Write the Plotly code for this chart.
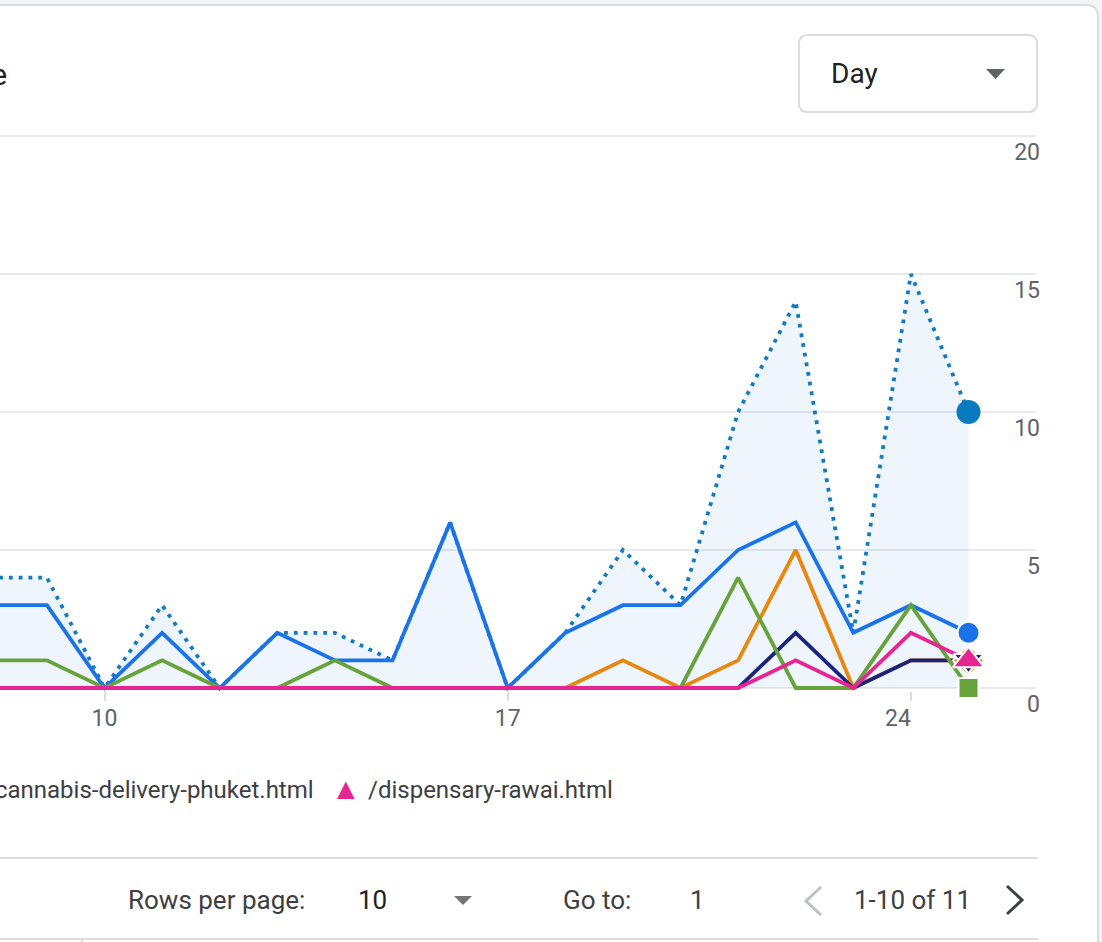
import plotly.graph_objects as go

W, H = 1102, 942

def fx(px):
    return px / W

def fy(py):
    return 1 - py / H

# ---------------- data ----------------
days = [8, 9, 10, 11, 12, 13, 14, 15, 16, 17, 18, 19, 20, 21, 22, 23, 24, 25]
total_views = [4, 4, 0, 3, 0, 2, 2, 1, 6, 0, 2, 5, 3, 10, 14, 2, 15, 10]
page_home = [3, 3, 0, 2, 0, 2, 1, 1, 6, 0, 2, 3, 3, 5, 6, 2, 3, 2]
page_green = [1, 1, 0, 1, 0, 0, 1, 0, 0, 0, 0, 0, 0, 4, 0, 0, 3, 0]
page_orange = [0, 0, 0, 0, 0, 0, 0, 0, 0, 0, 0, 1, 0, 1, 5, 0, 1, 1]
page_delivery = [0, 0, 0, 0, 0, 0, 0, 0, 0, 0, 0, 0, 0, 0, 2, 0, 1, 1]
page_rawai = [0, 0, 0, 0, 0, 0, 0, 0, 0, 0, 0, 0, 0, 0, 1, 0, 2, 1]

x_tickvals = [10, 17, 24]
x_ticktext = ["10", "17", "24\u2007\u2007"]
y_tickvals = [0, 5, 10, 15, 20]

title_text = "Views by Page path and screen class over time"
legend_names = ["/cannabis-delivery-phuket.html", "/dispensary-rawai.html"]

FONT = "Roboto"
GRID = "#e8eaed"
BORDER = "#dadce0"

fig = go.Figure()

# total (dotted, filled)
fig.add_trace(go.Scatter(
    x=days, y=total_views, mode="lines", name="Total",
    line=dict(color="#117ac0", width=3.8, dash="3.8px,6px"),
    fill="tozeroy", fillcolor="rgba(40,130,235,0.08)",
))

series = [
    ("/", page_home, "#1a73e8", "circle", 22),
    ("Page 3", page_orange, "#e8870e", "diamond", 24),
    (legend_names[0], page_delivery, "#1b237e", "triangle-down", 26),
    ("Page 2", page_green, "#67a23a", "square", 20),
    (legend_names[1], page_rawai, "#e52592", "triangle-up", 27),
]
for name, vals, col, sym, sz in series:
    fig.add_trace(go.Scatter(x=days, y=vals, mode="lines", name=name,
                             line=dict(color=col, width=3.8)))

# end markers
fig.add_trace(go.Scatter(
    x=[days[-1]], y=[total_views[-1]], mode="markers", name="Total", cliponaxis=False,
    marker=dict(symbol="circle", size=24, color="#0b7bc0", line=dict(width=0)),
))
for name, vals, col, sym, sz in series:
    fig.add_trace(go.Scatter(
        x=[days[-1]], y=[vals[-1]], mode="markers", name=name, cliponaxis=False,
        marker=dict(symbol=sym, size=sz, color=col, line=dict(width=2, color="white")),
    ))

shapes = []
# card background with rounded top-right corner
shapes.append(dict(
    type="path", xref="paper", yref="paper", layer="below",
    path=(f"M {fx(-10)},{fy(5)} L {fx(1086)},{fy(5)} Q {fx(1098)},{fy(5)} {fx(1098)},{fy(17)} "
          f"L {fx(1098)},{fy(960)} L {fx(-10)},{fy(960)} Z"),
    fillcolor="white", line=dict(color=BORDER, width=2),
))
# gap in gridlines right of the last point
shapes.append(dict(
    type="rect", xref="x", yref="paper", layer="between",
    x0=days[-1] + 0.01, x1=days[-1] + 0.14, y0=fy(692), y1=fy(132),
    fillcolor="white", line=dict(width=0),
))
# Day dropdown
x0, x1, y0, y1, r = 799, 1037, 35, 112, 9
shapes.append(dict(
    type="path", xref="paper", yref="paper", layer="above",
    path=(f"M {fx(x0 + r)},{fy(y0)} L {fx(x1 - r)},{fy(y0)} Q {fx(x1)},{fy(y0)} {fx(x1)},{fy(y0 + r)} "
          f"L {fx(x1)},{fy(y1 - r)} Q {fx(x1)},{fy(y1)} {fx(x1 - r)},{fy(y1)} "
          f"L {fx(x0 + r)},{fy(y1)} Q {fx(x0)},{fy(y1)} {fx(x0)},{fy(y1 - r)} "
          f"L {fx(x0)},{fy(y0 + r)} Q {fx(x0)},{fy(y0)} {fx(x0 + r)},{fy(y0)} Z"),
    line=dict(color=BORDER, width=2),
))
shapes.append(dict(
    type="path", xref="paper", yref="paper",
    path=f"M {fx(986)},{fy(69)} L {fx(1005)},{fy(69)} L {fx(995.5)},{fy(79)} Z",
    fillcolor="#5f6368", line=dict(width=0),
))
# dividers
shapes.append(dict(type="line", xref="paper", yref="paper",
                   x0=fx(0), x1=fx(1038), y0=fy(858), y1=fy(858),
                   line=dict(color=BORDER, width=2)))
shapes.append(dict(type="line", xref="paper", yref="paper",
                   x0=fx(0), x1=fx(1038), y0=fy(939), y1=fy(939),
                   line=dict(color=BORDER, width=2)))
shapes.append(dict(type="line", xref="paper", yref="paper",
                   x0=fx(82), x1=fx(82), y0=fy(939), y1=fy(944),
                   line=dict(color=BORDER, width=2)))
# rows-per-page caret
shapes.append(dict(
    type="path", xref="paper", yref="paper",
    path=f"M {fx(454)},{fy(896)} L {fx(472)},{fy(896)} L {fx(463)},{fy(905)} Z",
    fillcolor="#757575", line=dict(width=0),
))
# chevrons
shapes.append(dict(
    type="path", xref="paper", yref="paper",
    path=f"M {fx(821)},{fy(887)} L {fx(806)},{fy(901)} L {fx(821)},{fy(915)}",
    line=dict(color="#bdc1c6", width=3),
))
shapes.append(dict(
    type="path", xref="paper", yref="paper",
    path=f"M {fx(1007)},{fy(886)} L {fx(1022)},{fy(900)} L {fx(1007)},{fy(914)}",
    line=dict(color="#3c4043", width=3),
))

def ann(text, x, y, size, color, xanchor="left"):
    return dict(text=text, x=fx(x), y=fy(y), xref="paper", yref="paper",
                xanchor=xanchor, yanchor="middle", showarrow=False,
                font=dict(family=FONT, size=size, color=color))

annotations = [
    ann(title_text, 9, 75, 30, "#202124", "right"),
    ann("Day", 829, 74, 28, "#202124"),
    ann(legend_names[0], 316, 790, 24, "#3c4043", "right"),
    ann("\u25B2", 346, 788, 30, "#e52592", "center"),
    ann(legend_names[1], 366, 790, 24, "#3c4043"),
    ann("Rows per page:", 126, 900, 26, "#3c4043"),
    ann("10", 356, 900, 26, "#202124"),
    ann("Go to:", 561, 900, 26, "#3c4043"),
    ann("1", 697, 900, 26, "#3c4043", "center"),
    ann("1-10 of 11", 912, 900, 26, "#3c4043", "center"),
]

x_lo = days[2] - 104.5 / 57.6
x_hi = days[-1] + (1036 - 968.5) / 57.6

# y: 0 -> 688px, 20 -> 136px (27.6 px per unit); pad 3px each side so edge gridlines draw
PX_PER_UNIT = (688 - 136) / 20
pad_units = 3 / PX_PER_UNIT

fig.update_layout(
    width=W, height=H, autosize=False,
    margin=dict(l=0, r=0, t=0, b=0, autoexpand=False),
    paper_bgcolor="#f3f4f6", plot_bgcolor="rgba(0,0,0,0)",
    showlegend=False,
    font=dict(family=FONT, color="#5f6368"),
    shapes=shapes, annotations=annotations,
    xaxis=dict(
        domain=[0, fx(1036)], range=[x_lo, x_hi],
        tickmode="array", tickvals=x_tickvals, ticktext=x_ticktext,
        ticks="outside", ticklen=9, tickwidth=2, tickcolor=BORDER,
        ticklabelstandoff=-3,
        showgrid=False, zeroline=False, showline=False,
        tickfont=dict(family=FONT, size=23, color="#5f6368"),
    ),
    yaxis=dict(
        domain=[fy(691), fy(133)], range=[-pad_units, 20 + pad_units],
        anchor="free", position=fx(1040), side="left",
        tickmode="array", tickvals=y_tickvals,
        ticks="", showgrid=True, gridcolor=GRID, gridwidth=2,
        zeroline=False, showline=False,
        ticklabelshift=16,
        tickfont=dict(family=FONT, size=23, color="#5f6368"),
    ),
)

fig.write_html("out.html")
